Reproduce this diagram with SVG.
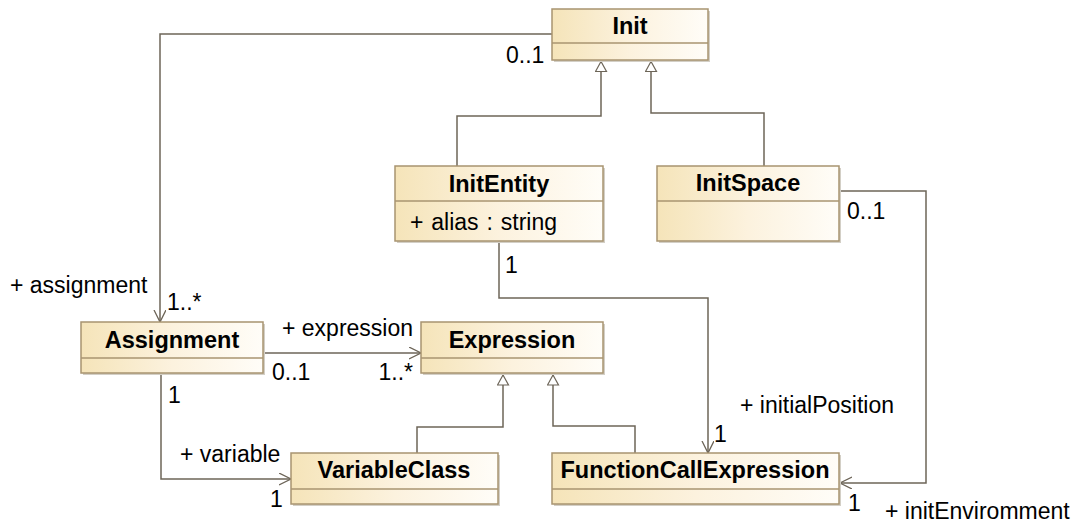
<svg xmlns="http://www.w3.org/2000/svg" width="1075" height="526" viewBox="0 0 1075 526">
<defs>
<linearGradient id="fill" x1="0" y1="0" x2="1" y2="0">
<stop offset="0" stop-color="#f5e4b9"/>
<stop offset="0.5" stop-color="#fcf2de"/>
<stop offset="1" stop-color="#fffdf8"/>
</linearGradient>
<marker id="open" markerUnits="userSpaceOnUse" markerWidth="14" markerHeight="14" refX="12" refY="6" orient="auto" viewBox="0 0 14 14">
<path d="M0,0 L12,6 L0,12" fill="none" stroke="#6d6558" stroke-width="1.3"/>
</marker>
<marker id="gen" markerUnits="userSpaceOnUse" markerWidth="14" markerHeight="14" refX="11" refY="6" orient="auto" viewBox="0 0 14 14">
<path d="M1,0.5 L11,6 L1,11.5 Z" fill="#ffffff" stroke="#6d6558" stroke-width="1.2"/>
</marker>
</defs>
<style>
.box{fill:url(#fill);stroke:#a89470;stroke-width:1.5}
.shadow{fill:#d3cfc6}
.div{stroke:#a89470;stroke-width:1.5}
.name{font-family:"Liberation Sans",Arial,sans-serif;font-size:23.5px;font-weight:bold;fill:#000;text-anchor:middle}
.lbl{font-family:"Liberation Sans",Arial,sans-serif;font-size:23px;fill:#000}
.ln{fill:none;stroke:#6d6558;stroke-width:1.5}
.assoc{marker-end:url(#open)}
.genl{marker-end:url(#gen)}
</style>
<rect width="1075" height="526" fill="#ffffff"/>

<g id="connectors">
<polyline class="ln assoc" points="552,34 160,34 160,322"/>
<polyline class="ln assoc" points="263,353 421,353"/>
<polyline class="ln assoc" points="161,373 161,479 291,479"/>
<polyline class="ln assoc" points="499,241 499,298 708,298 708,453"/>
<polyline class="ln assoc" points="839,191 926,191 926,483 840,483"/>
<polyline class="ln genl" points="457,166 457,116 601,116 601,61.5"/>
<polyline class="ln genl" points="764,166 764,113 651,113 651,61.5"/>
<polyline class="ln genl" points="417,453 417,427 503,427 503,375"/>
<polyline class="ln genl" points="635,453 635,426 553,426 553,375"/>
<text class="lbl" x="506" y="63">0..1</text>
<text class="lbl" x="10" y="293">+ assignment</text>
<text class="lbl" x="167" y="310">1..*</text>
<text class="lbl" x="282" y="336">+ expression</text>
<text class="lbl" x="272" y="380">0..1</text>
<text class="lbl" x="413" y="380" text-anchor="end">1..*</text>
<text class="lbl" x="168" y="403">1</text>
<text class="lbl" x="180" y="462">+ variable</text>
<text class="lbl" x="270" y="507">1</text>
<text class="lbl" x="505" y="273">1</text>
<text class="lbl" x="740" y="413">+ initialPosition</text>
<text class="lbl" x="714" y="442">1</text>
<text class="lbl" x="847" y="219">0..1</text>
<text class="lbl" x="848" y="511">1</text>
<text class="lbl" x="885" y="519">+ initEnviromment</text>
</g>

<g id="Init">
<rect class="shadow" x="554" y="11" width="156" height="51"/>
<rect class="box" x="552" y="9" width="156" height="51"/>
<line class="div" x1="552" y1="43" x2="708" y2="43"/>
<text class="name" x="630" y="34">Init</text>
</g>
<g id="InitEntity">
<rect class="shadow" x="397" y="168" width="208" height="75"/>
<rect class="box" x="395" y="166" width="208" height="75"/>
<line class="div" x1="395" y1="201" x2="603" y2="201"/>
<text class="name" x="499" y="192">InitEntity</text>
<text class="lbl" x="410" y="230" font-size="24" word-spacing="1.5">+ alias : string</text>
</g>
<g id="InitSpace">
<rect class="shadow" x="659" y="168" width="182" height="75"/>
<rect class="box" x="657" y="166" width="182" height="75"/>
<line class="div" x1="657" y1="201" x2="839" y2="201"/>
<text class="name" x="748" y="191">InitSpace</text>
</g>
<g id="Assignment">
<rect class="shadow" x="83" y="324" width="182" height="51"/>
<rect class="box" x="81" y="322" width="182" height="51"/>
<line class="div" x1="81" y1="358" x2="263" y2="358"/>
<text class="name" x="172" y="348">Assignment</text>
</g>
<g id="Expression">
<rect class="shadow" x="423" y="324" width="182" height="51"/>
<rect class="box" x="421" y="322" width="182" height="51"/>
<line class="div" x1="421" y1="358" x2="603" y2="358"/>
<text class="name" x="512" y="348">Expression</text>
</g>
<g id="VariableClass">
<rect class="shadow" x="293" y="455" width="207" height="51"/>
<rect class="box" x="291" y="453" width="207" height="51"/>
<line class="div" x1="291" y1="489" x2="498" y2="489"/>
<text class="name" x="394" y="478">VariableClass</text>
</g>
<g id="FunctionCallExpression">
<rect class="shadow" x="554" y="455" width="287" height="51"/>
<rect class="box" x="552" y="453" width="287" height="51"/>
<line class="div" x1="552" y1="489" x2="839" y2="489"/>
<text class="name" x="695" y="478">FunctionCallExpression</text>
</g>
</svg>
